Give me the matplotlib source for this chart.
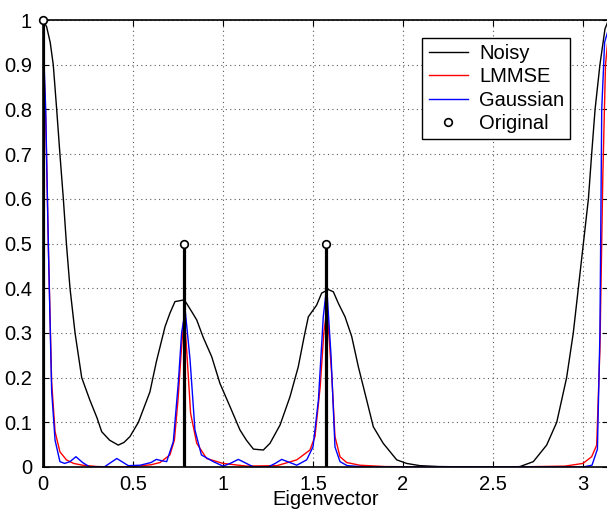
import matplotlib
matplotlib.use("Agg")
import matplotlib.pyplot as plt

plt.rcParams["font.family"] = ["Liberation Sans", "DejaVu Sans"]

# values
noisy_x = [0, 0.02, 0.04, 0.057, 0.076, 0.094, 0.113, 0.13, 0.15, 0.178, 0.215, 0.26,
           0.3, 0.326, 0.37, 0.418, 0.45, 0.483, 0.53, 0.594, 0.63, 0.678, 0.705, 0.733,
           0.76, 0.785, 0.807, 0.83, 0.854, 0.89, 0.937, 0.983, 1.039, 1.094, 1.13, 1.169,
           1.224, 1.261, 1.317, 1.372, 1.418, 1.45, 1.474, 1.52, 1.548, 1.585, 1.613,
           1.641, 1.678, 1.715, 1.752, 1.798, 1.835, 1.89, 1.965, 2.02, 2.094, 2.2, 2.4,
           2.6, 2.65, 2.724, 2.798, 2.854, 2.909, 2.946, 2.974, 3.002, 3.03, 3.048, 3.067,
           3.094, 3.122, 3.1416]
noisy_y = [1.0, 0.985, 0.95, 0.90, 0.80, 0.70, 0.60, 0.50, 0.40, 0.30, 0.20, 0.15,
           0.11, 0.079, 0.06, 0.049, 0.055, 0.068, 0.10, 0.168, 0.236, 0.314, 0.344, 0.37,
           0.372, 0.374, 0.36, 0.345, 0.329, 0.29, 0.247, 0.187, 0.135, 0.083, 0.06, 0.040,
           0.038, 0.053, 0.094, 0.157, 0.224, 0.29, 0.336, 0.362, 0.389, 0.397, 0.392,
           0.366, 0.336, 0.292, 0.224, 0.150, 0.090, 0.053, 0.016, 0.008, 0.003, 0.001, 0.0,
           0.0, 0.001, 0.012, 0.049, 0.10, 0.20, 0.30, 0.40, 0.50, 0.60, 0.70, 0.80,
           0.90, 0.98, 1.0]

lmmse_x = [0, 0.015, 0.03, 0.048, 0.067, 0.094, 0.13, 0.17, 0.22, 0.3, 0.4, 0.5, 0.6,
           0.65, 0.705, 0.73, 0.75, 0.77, 0.785, 0.80, 0.82, 0.854, 0.909, 1.0, 1.13, 1.3,
           1.41, 1.483, 1.511, 1.54, 1.56, 1.578, 1.605, 1.622, 1.65, 1.687, 1.76, 1.9,
           2.2, 2.6, 2.9, 3.0, 3.048, 3.076, 3.094, 3.11, 3.125, 3.1416]
lmmse_y = [0.95, 0.78, 0.49, 0.19, 0.079, 0.034, 0.016, 0.008, 0.004, 0.001, 0.0, 0.001,
           0.005, 0.01, 0.027, 0.06, 0.15, 0.27, 0.34, 0.25, 0.12, 0.053, 0.019, 0.008,
           0.002, 0.003, 0.016, 0.038, 0.068, 0.18, 0.3, 0.355, 0.2, 0.068, 0.023, 0.01,
           0.004, 0.001, 0.0, 0.0, 0.002, 0.008, 0.023, 0.049, 0.265, 0.65, 0.9, 0.97]

gauss_x = [0, 0.015, 0.03, 0.048, 0.067, 0.094, 0.12, 0.15, 0.183, 0.22, 0.26, 0.34,
           0.41, 0.474, 0.54, 0.6, 0.63, 0.66, 0.687, 0.724, 0.752, 0.77, 0.79, 0.817,
           0.844, 0.88, 0.946, 1.0, 1.04, 1.085, 1.13, 1.17, 1.25, 1.29, 1.326, 1.41,
           1.465, 1.50, 1.53, 1.557, 1.576, 1.60, 1.622, 1.65, 1.69, 1.8, 2.2, 2.6, 3.0,
           3.05, 3.08, 3.094, 3.104, 3.12, 3.1416]
gauss_y = [0.97, 0.8, 0.49, 0.17, 0.06, 0.012, 0.008, 0.012, 0.023, 0.01, 0.0, 0.0,
           0.019, 0.003, 0.004, 0.01, 0.017, 0.014, 0.012, 0.057, 0.19, 0.30, 0.35, 0.24,
           0.083, 0.027, 0.012, 0.002, 0.008, 0.017, 0.008, 0.0, 0.0, 0.008, 0.017, 0.004,
           0.016, 0.045, 0.15, 0.336, 0.403, 0.25, 0.045, 0.012, 0.003, 0.0, 0.0, 0.0, 0.0,
           0.004, 0.04, 0.3, 0.8, 0.95, 0.98]

orig_x = [0, 0.7854, 1.5708]
orig_y = [1.0, 0.5, 0.5]

x_ticks = [0, 0.5, 1, 1.5, 2, 2.5, 3]
x_tick_labels = ["0", "0.5", "1", "1.5", "2", "2.5", "3"]
y_ticks = [0, 0.1, 0.2, 0.3, 0.4, 0.5, 0.6, 0.7, 0.8, 0.9, 1]
y_tick_labels = ["0", "0.1", "0.2", "0.3", "0.4", "0.5", "0.6", "0.7", "0.8", "0.9", "1"]

fig = plt.figure(figsize=(6.07, 5.14), dpi=100)
ax = fig.add_axes([43 / 607, 47 / 514, 565.5 / 607, 447 / 514])

ax.plot(noisy_x, noisy_y, color="black", linewidth=1.0, label="Noisy")
ax.plot(lmmse_x, lmmse_y, color="#ff0000", linewidth=1.0, label="LMMSE")
ax.plot(gauss_x, gauss_y, color="#0000ff", linewidth=1.0, label="Gaussian")

# stems of the original spectrum
ax.vlines(orig_x, 0, orig_y, colors="black", linewidth=2.3, zorder=4)
ax.plot(orig_x, orig_y, linestyle="none", marker="o", markersize=5.5,
        markerfacecolor="white", markeredgecolor="black", markeredgewidth=1.2,
        label="Original", zorder=5, clip_on=False)

ax.set_xlim(0, 3.1416)
ax.set_ylim(0, 1)
ax.set_xticks(x_ticks)
ax.set_xticklabels(x_tick_labels)
ax.set_yticks(y_ticks)
ax.set_yticklabels(y_tick_labels)
ax.tick_params(direction="in", length=4, width=0.8, top=True, right=True,
               labelsize=14.5, pad=8)
ax.tick_params(axis="x", pad=6)

ax.grid(True, color="0.35", linestyle=(0, (1, 3)), linewidth=0.8)
for s in ax.spines.values():
    s.set_linewidth(1.2)

ax.set_xlabel("Eigenvector", fontsize=14.5)
ax.xaxis.set_label_coords(0.5, -0.052)

leg = ax.legend(loc="upper right", bbox_to_anchor=(0.932, 0.960), borderaxespad=0,
                fontsize=14.5, fancybox=False, framealpha=1, edgecolor="black",
                handlelength=1.95, handletextpad=0.55, labelspacing=0.22,
                borderpad=0.3)
leg.get_frame().set_linewidth(1.0)

fig.savefig("out.png", dpi=100)
